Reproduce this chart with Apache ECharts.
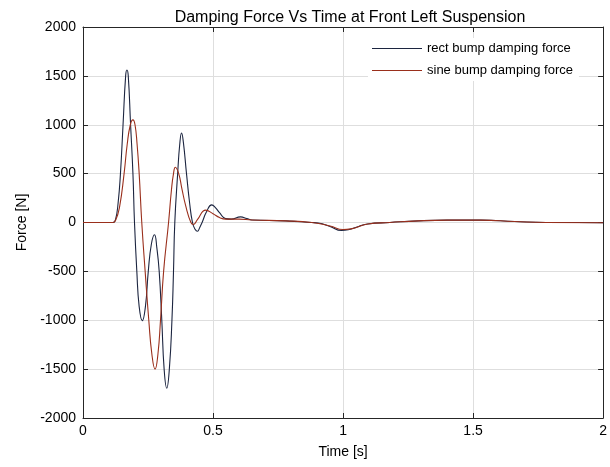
<!DOCTYPE html>
<html>
<head>
<meta charset="utf-8">
<script src="https://cdn.jsdelivr.net/npm/echarts@6/dist/echarts.min.js"></script>
<style>html,body{margin:0;padding:0;background:#fff}#c{width:610px;height:467px}</style>
</head>
<body>
<div id="c"></div>
<script>
var seriesNames = ['rect bump damping force', 'sine bump damping force'];
var xTicks = [0, 0.5, 1, 1.5, 2];
var yTicks = [-2000, -1500, -1000, -500, 0, 500, 1000, 1500, 2000];

var rectTime = [0, 0.10, 0.115, 0.125, 0.135, 0.144, 0.154, 0.164, 0.169, 0.174, 0.183, 0.192, 0.198, 0.207, 0.216, 0.228, 0.24, 0.251, 0.263, 0.275, 0.284, 0.293, 0.303, 0.312, 0.322, 0.332, 0.342, 0.348, 0.353, 0.364, 0.372, 0.379, 0.386, 0.398, 0.41, 0.421, 0.431, 0.44, 0.449, 0.458, 0.475, 0.495, 0.51, 0.525, 0.548, 0.57, 0.606, 0.63, 0.65, 0.78, 0.88, 0.905, 0.95, 0.994, 1.02, 1.06, 1.095, 1.18, 1.29, 1.4, 1.53, 1.66, 1.78, 1.9, 2.0];
var rectForce = [0, 0, 0, 30, 200, 500, 1000, 1500, 1560, 1500, 1000, 500, 0, -500, -860, -1005, -860, -500, -220, -125, -260, -500, -1000, -1500, -1695, -1500, -1000, -500, 0, 500, 800, 915, 820, 500, 200, 0, -70, -90, -50, 0, 110, 180, 150, 100, 40, 35, 58, 40, 25, 17, 0, -5, -40, -82, -75, -40, -15, 0, 17, 24, 24, 10, 0, 0, -3];

var sineTime = [0, 0.115, 0.125, 0.14, 0.158, 0.17, 0.182, 0.192, 0.20, 0.208, 0.216, 0.226, 0.239, 0.253, 0.265, 0.277, 0.288, 0.298, 0.31, 0.329, 0.34, 0.348, 0.355, 0.368, 0.38, 0.395, 0.415, 0.425, 0.44, 0.472, 0.50, 0.525, 0.55, 0.6, 0.65, 0.78, 0.88, 0.95, 1.0, 1.03, 1.095, 1.18, 1.29, 1.4, 1.53, 1.66, 1.78, 2.0];
var sineForce = [0, 0, 20, 150, 500, 800, 1000, 1050, 1000, 800, 500, 0, -500, -1000, -1350, -1500, -1350, -1000, -500, 0, 330, 500, 565, 500, 350, 170, 0, -20, 30, 127, 90, 50, 35, 35, 25, 17, 0, -35, -72, -65, -15, 0, 17, 24, 24, 10, 0, -3];

function pairs(xs, ys) { return xs.map(function (x, i) { return [x, ys[i]]; }); }

var axisColor = '#262626';
var font = 'Liberation Sans, Arial, sans-serif';
var gridCol = '#dedede';

var chart = echarts.init(document.getElementById('c'), null, { renderer: 'canvas' });
chart.setOption({
  animation: false,
  backgroundColor: '#fff',
  title: {
    text: 'Damping Force Vs Time at Front Left Suspension',
    left: 345, top: 5, textAlign: 'center',
    textStyle: { fontFamily: font, fontSize: 16, fontWeight: 'normal', color: '#000' }
  },
  legend: {
    data: seriesNames.map(function (n) { return { name: n, icon: 'rect' }; }),
    orient: 'vertical', left: 368, top: 38,
    itemWidth: 50, itemHeight: 1, itemGap: 9,
    backgroundColor: '#fff', padding: [4, 6, 4, 4],
    textStyle: { fontFamily: font, fontSize: 13, color: '#000' }
  },
  grid: { left: 83, right: 4, top: 27, bottom: 49, containLabel: false },
  xAxis: [{
    type: 'value', min: 0, max: 2, interval: 0.5,
    name: 'Time [s]', nameLocation: 'middle', nameGap: 27,
    nameTextStyle: { fontFamily: font, fontSize: 14, color: '#000' },
    axisLine: { show: true, onZero: false, lineStyle: { color: axisColor, width: 1 } },
    axisTick: { show: true, inside: true, length: 5, lineStyle: { color: axisColor } },
    axisLabel: { fontFamily: font, fontSize: 14, color: '#000', margin: 6, formatter: function (v) { return xTicks.indexOf(v) >= 0 ? String(v) : ''; } },
    splitLine: { show: true, lineStyle: { color: gridCol, width: 1 } }
  }, {
    type: 'value', min: 0, max: 2, interval: 0.5, position: 'top',
    axisLine: { show: true, onZero: false, lineStyle: { color: axisColor, width: 1 } },
    axisTick: { show: true, inside: true, length: 5, lineStyle: { color: axisColor } },
    axisLabel: { show: false }, splitLine: { show: false }
  }],
  yAxis: [{
    type: 'value', min: -2000, max: 2000, interval: 500,
    name: 'Force [N]', nameLocation: 'middle', nameGap: 53, nameRotate: 90,
    nameTextStyle: { fontFamily: font, fontSize: 14, color: '#000' },
    axisLine: { show: true, onZero: false, lineStyle: { color: axisColor, width: 1 } },
    axisTick: { show: true, inside: true, length: 5, lineStyle: { color: axisColor } },
    axisLabel: { fontFamily: font, fontSize: 14, color: '#000', margin: 7, formatter: function (v) { return yTicks.indexOf(v) >= 0 ? String(v) : ''; } },
    splitLine: { show: true, lineStyle: { color: gridCol, width: 1 } }
  }, {
    type: 'value', min: -2000, max: 2000, interval: 500, position: 'right',
    axisLine: { show: true, onZero: false, lineStyle: { color: axisColor, width: 1 } },
    axisTick: { show: true, inside: true, length: 5, lineStyle: { color: axisColor } },
    axisLabel: { show: false }, splitLine: { show: false }
  }],
  series: [{
    name: seriesNames[0], type: 'line', xAxisIndex: 0, yAxisIndex: 0,
    data: pairs(rectTime, rectForce), showSymbol: false, smooth: 0.5,
    lineStyle: { color: '#1c2540', width: 1.1 }, itemStyle: { color: '#1c2540' }, z: 3
  }, {
    name: seriesNames[1], type: 'line', xAxisIndex: 0, yAxisIndex: 0,
    data: pairs(sineTime, sineForce), showSymbol: false, smooth: 0.5,
    lineStyle: { color: '#9a2f1c', width: 1.1 }, itemStyle: { color: '#9a2f1c' }, z: 4
  }]
});
</script>
</body>
</html>
